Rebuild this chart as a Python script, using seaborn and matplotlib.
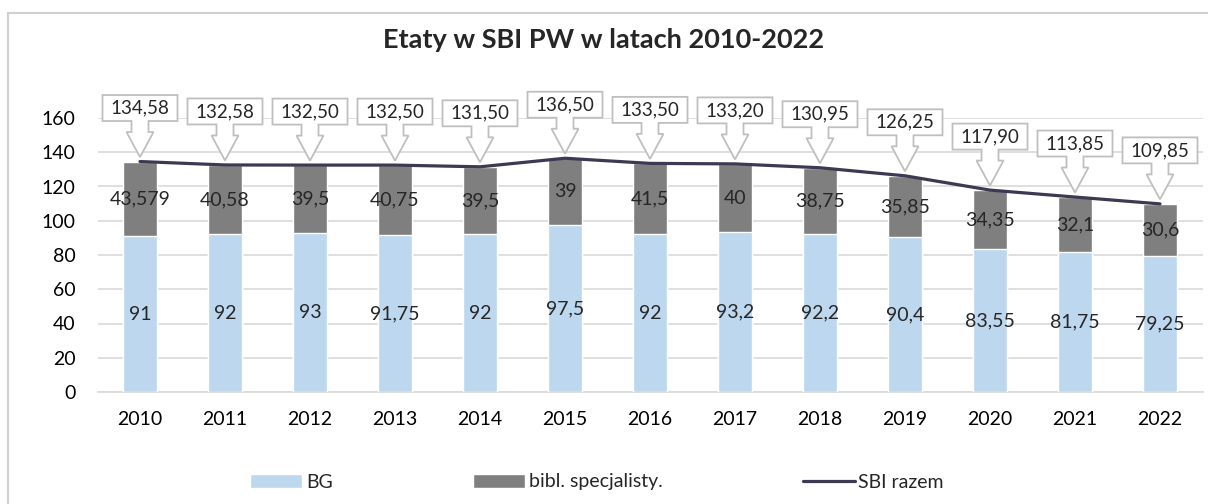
import numpy as np
import pandas as pd
import matplotlib
matplotlib.use("Agg")
import matplotlib.pyplot as plt
import matplotlib.transforms as mtransforms
from matplotlib.patches import Polygon, Rectangle
from matplotlib.lines import Line2D
import seaborn as sns

# dane
lata = ["2010", "2011", "2012", "2013", "2014", "2015", "2016",
        "2017", "2018", "2019", "2020", "2021", "2022"]
bg = [91, 92, 93, 91.75, 92, 97.5, 92, 93.2, 92.2, 90.4, 83.55, 81.75, 79.25]
bibl = [43.579, 40.58, 39.5, 40.75, 39.5, 39, 41.5, 40, 38.75, 35.85, 34.35, 32.1, 30.6]
razem = [134.58, 132.58, 132.50, 132.50, 131.50, 136.50, 133.50,
         133.20, 130.95, 126.25, 117.90, 113.85, 109.85]

C_BG = "#BDD7EE"
C_BIBL = "#7F7F7F"
C_LINE = "#3B3A52"
C_GRID = "#D9D9D9"

sns.set_theme(style="white")
plt.rcParams["font.family"] = ["Lato", "DejaVu Sans"]

df = pd.DataFrame({"rok": lata, "BG": bg, "bibl": bibl, "razem": razem})
df["suma"] = df["BG"] + df["bibl"]

fig = plt.figure(figsize=(12.08, 5.04), dpi=100)
ax = fig.add_axes([97.5 / 1208, 112 / 504, 1105 / 1208, 274 / 504])

# słupki skumulowane: suma na szaro, BG na wierzchu
sns.barplot(data=df, x="rok", y="suma", color=C_BIBL, width=0.4,
            saturation=1, ax=ax, zorder=2)
sns.barplot(data=df, x="rok", y="BG", color=C_BG, width=0.4,
            saturation=1, ax=ax, zorder=3)
pos = np.arange(len(lata))
sns.lineplot(x=pos, y=df["razem"], color=C_LINE, linewidth=2.3, ax=ax,
             zorder=4)

ax.set_ylim(0, 160)
ax.set_xlim(-0.5, len(lata) - 0.5)
ax.set_yticks(range(0, 161, 20))
ax.yaxis.grid(True, color=C_GRID, linewidth=1.2, zorder=0)
ax.set_axisbelow(True)
for s in ["top", "right", "left"]:
    ax.spines[s].set_visible(False)
ax.spines["bottom"].set_color(C_GRID)
ax.spines["bottom"].set_linewidth(1.2)
ax.tick_params(axis="both", length=0, labelsize=14, colors="#000000")
ax.tick_params(axis="y", pad=16)
ax.tick_params(axis="x", pad=14)
ax.set_xlabel("")
ax.set_ylabel("")

def fmt(v):
    return f"{v:g}".replace(".", ",")

# etykiety w słupkach
for i in range(len(lata)):
    ax.text(i, bg[i] / 2, fmt(bg[i]), ha="center", va="center",
            fontsize=14, zorder=5)
    ax.text(i, bg[i] + bibl[i] / 2, fmt(bibl[i]), ha="center", va="center",
            fontsize=14, zorder=5)

# objaśnienia (callouty) nad linią
gap = 4.5
shape = np.array([
    (0, 0), (13.5, 25), (8.5, 25), (8.5, 36), (37.5, 36), (37.5, 62),
    (-37.5, 62), (-37.5, 36), (-8.5, 36), (-8.5, 25), (-13.5, 25)
]) + np.array([0, gap])
sc = fig.dpi / 100
for i, v in enumerate(razem):
    tr = mtransforms.Affine2D().scale(sc) + \
        mtransforms.ScaledTranslation(i, v, ax.transData)
    ax.add_patch(Polygon(shape, closed=True, facecolor="white",
                         edgecolor="#BFBFBF", linewidth=1.3,
                         transform=tr, clip_on=False, zorder=6))
    ax.annotate(f"{v:.2f}".replace(".", ","), xy=(i, v),
                xytext=(0, (gap + 49) * 0.72), textcoords="offset points",
                ha="center", va="center", fontsize=13.5, zorder=7,
                annotation_clip=False)

fig.text(0.5, 1 - 40 / 504, "Etaty w SBI PW w latach 2010-2022",
         ha="center", va="center", fontsize=19.5, fontweight="bold")

handles = [
    Rectangle((0, 0), 1, 1, facecolor=C_BG),
    Rectangle((0, 0), 1, 1, facecolor=C_BIBL),
    Line2D([0], [0], color=C_LINE, linewidth=2.3),
]
fig.legend(handles, ["BG", "bibl. specjalisty.", "SBI razem"], ncol=3,
           loc="center", bbox_to_anchor=(597 / 1208, 22 / 504),
           frameon=False, fontsize=14, handlelength=2.68, handleheight=0.7,
           handletextpad=0.2, columnspacing=7.2)

# ramka wykresu
fig.patches.append(Rectangle((8 / 1208, -0.1), 1.2, 1 - 13 / 504 + 0.1,
                             transform=fig.transFigure, fill=False,
                             edgecolor="#D0D0D0", linewidth=1.5))

fig.savefig("out.png", dpi=100)
